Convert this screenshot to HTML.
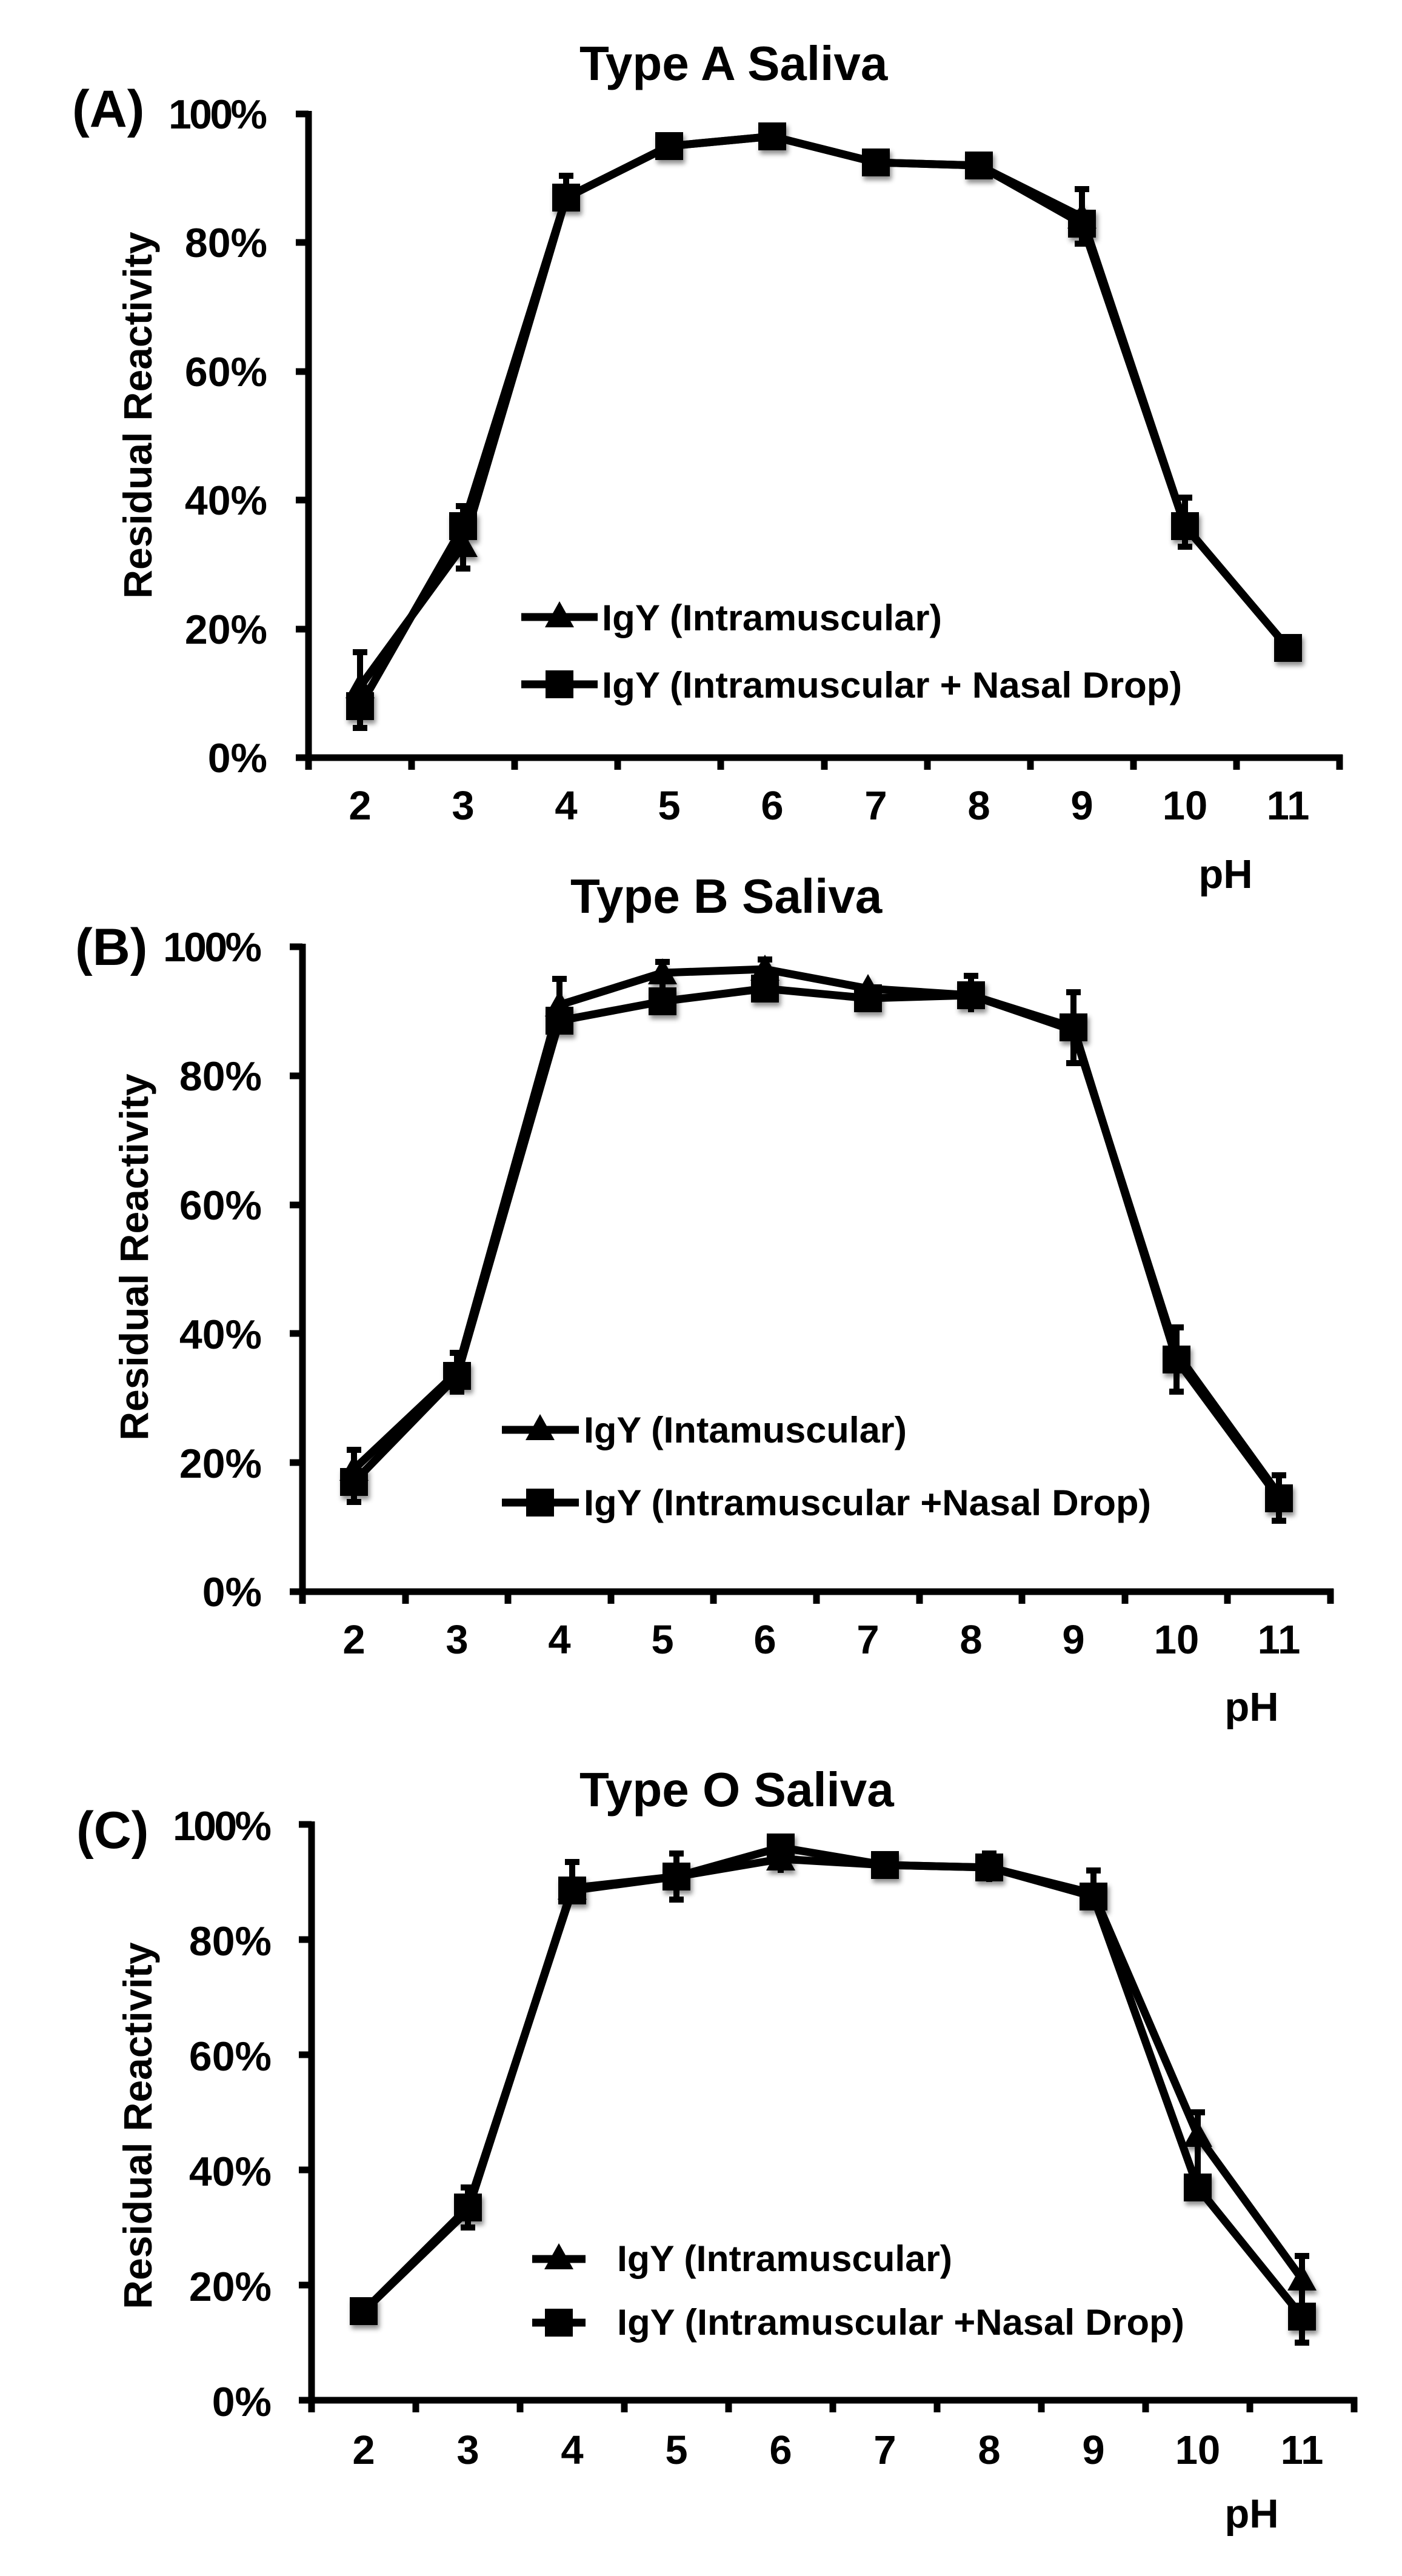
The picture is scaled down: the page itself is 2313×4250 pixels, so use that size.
<!DOCTYPE html>
<html><head><meta charset="utf-8"><style>
html,body{margin:0;padding:0;background:#fff;}
svg{display:block;}
text{font-family:"Liberation Sans",Arial,sans-serif;font-weight:bold;fill:#000;}
</style></head><body>
<svg width="2313" height="4250" viewBox="0 0 2313 4250" xmlns="http://www.w3.org/2000/svg">
<defs>
<filter id="sh" x="-50%" y="-50%" width="200%" height="200%"><feDropShadow dx="3" dy="6" stdDeviation="4" flood-color="#000" flood-opacity="0.45"/></filter>
<polygon id="tri" points="0,-24 24,19 -24,19"/>
<rect id="sq" x="-23" y="-23" width="46" height="46"/>
</defs>

<!-- ================= PANEL A ================= -->
<text x="956" y="132" font-size="80">Type A Saliva</text>
<text x="119" y="209" font-size="86">(A)</text>
<g font-size="68" text-anchor="end">
<text x="441" y="212" textLength="163">100%</text>
<text x="441" y="424">80%</text>
<text x="441" y="637">60%</text>
<text x="441" y="849">40%</text>
<text x="441" y="1062">20%</text>
<text x="441" y="1274">0%</text>
</g>
<text transform="translate(250,685) rotate(-90)" font-size="66" text-anchor="middle">Residual Reactivity</text>
<g stroke="#000" stroke-width="11" fill="none">
<line x1="509" y1="183" x2="509" y2="1270"/>
<line x1="488" y1="1250" x2="2215" y2="1250"/>
<path d="M488 188H509M488 400H509M488 613H509M488 825H509M488 1038H509"/>
<path d="M679 1250V1270M849 1250V1270M1019 1250V1270M1189 1250V1270M1360 1250V1270M1530 1250V1270M1700 1250V1270M1870 1250V1270M2040 1250V1270M2210 1245V1270"/>
</g>
<g font-size="67" text-anchor="middle">
<text x="594" y="1352">2</text><text x="764" y="1352">3</text><text x="934" y="1352">4</text><text x="1104" y="1352">5</text><text x="1274" y="1352">6</text><text x="1445" y="1352">7</text><text x="1615" y="1352">8</text><text x="1785" y="1352">9</text><text x="1955" y="1352">10</text><text x="2125" y="1352">11</text>
</g>
<text x="2022" y="1465" font-size="67" text-anchor="middle">pH</text>
<!-- error bars -->
<g stroke="#000" stroke-width="10" fill="none">
<path d="M594 1076V1201M582 1076H606M582 1201H606"/>
<path d="M764 835V938M752 835H776M752 938H776"/>
<path d="M934 290V340M922 290H946"/>
<path d="M1785 312V402M1773 312H1797M1773 402H1797"/>
<path d="M1955 821V902M1943 821H1967M1943 902H1967"/>
</g>
<g stroke="#000" stroke-width="13" fill="none" stroke-linejoin="round">
<polyline points="594,1133 764,900 934,326 1104,241 1274,225 1445,268 1615,273 1785,358 1955,868 2125,1069"/>
<polyline points="594,1165 764,868 934,326 1104,241 1274,225 1445,268 1615,273 1785,369 1955,868 2125,1069"/>
</g>
<g filter="url(#sh)">
<use href="#tri" x="594" y="1133"/><use href="#tri" x="764" y="900"/><use href="#tri" x="1785" y="358"/>
<use href="#sq" x="594" y="1165"/><use href="#sq" x="764" y="868"/><use href="#sq" x="934" y="326"/><use href="#sq" x="1104" y="241"/><use href="#sq" x="1274" y="225"/><use href="#sq" x="1445" y="268"/><use href="#sq" x="1615" y="273"/><use href="#sq" x="1785" y="369"/><use href="#sq" x="1955" y="868"/><use href="#sq" x="2125" y="1069"/>
</g>
<!-- legend A -->
<g stroke="#000" stroke-width="13"><line x1="860" y1="1018" x2="986" y2="1018"/><line x1="860" y1="1129" x2="986" y2="1129"/></g>
<use href="#tri" x="923" y="1016"/><use href="#sq" x="923" y="1129"/>
<text x="993" y="1040" font-size="60" textLength="561" lengthAdjust="spacingAndGlyphs">IgY (Intramuscular)</text>
<text x="993" y="1151" font-size="60" textLength="957" lengthAdjust="spacingAndGlyphs">IgY (Intramuscular + Nasal Drop)</text>

<!-- ================= PANEL B ================= -->
<text x="941" y="1506" font-size="80">Type B Saliva</text>
<text x="124" y="1592" font-size="86">(B)</text>
<g font-size="68" text-anchor="end">
<text x="432" y="1586" textLength="163">100%</text>
<text x="432" y="1799">80%</text>
<text x="432" y="2012">60%</text>
<text x="432" y="2225">40%</text>
<text x="432" y="2438">20%</text>
<text x="432" y="2650">0%</text>
</g>
<text transform="translate(244,2074) rotate(-90)" font-size="66" text-anchor="middle">Residual Reactivity</text>
<g stroke="#000" stroke-width="11" fill="none">
<line x1="499" y1="1557" x2="499" y2="2646"/>
<line x1="478" y1="2626" x2="2200" y2="2626"/>
<path d="M478 1562H499M478 1775H499M478 1988H499M478 2200H499M478 2413H499"/>
<path d="M669 2626V2646M838 2626V2646M1008 2626V2646M1177 2626V2646M1347 2626V2646M1517 2626V2646M1686 2626V2646M1856 2626V2646M2025 2626V2646M2195 2621V2646"/>
</g>
<g font-size="67" text-anchor="middle">
<text x="584" y="2728">2</text><text x="754" y="2728">3</text><text x="923" y="2728">4</text><text x="1093" y="2728">5</text><text x="1262" y="2728">6</text><text x="1432" y="2728">7</text><text x="1602" y="2728">8</text><text x="1771" y="2728">9</text><text x="1941" y="2728">10</text><text x="2110" y="2728">11</text>
</g>
<text x="2065" y="2839" font-size="67" text-anchor="middle">pH</text>
<g stroke="#000" stroke-width="10" fill="none">
<path d="M584 2392V2478M572 2392H596M572 2478H596"/>
<path d="M754 2232V2296M742 2232H766M742 2296H766"/>
<path d="M923 1615V1700M911 1615H935"/>
<path d="M1093 1587V1660M1081 1587H1105"/>
<path d="M1262 1583V1640M1250 1583H1274"/>
<path d="M1602 1610V1670M1590 1610H1614"/>
<path d="M1771 1637V1754M1759 1637H1783M1759 1754H1783"/>
<path d="M1941 2190V2296M1929 2190H1953M1929 2296H1953"/>
<path d="M2110 2434V2509M2098 2434H2122M2098 2509H2122"/>
</g>
<g stroke="#000" stroke-width="13" fill="none" stroke-linejoin="round">
<polyline points="584,2424 754,2264 923,1658 1093,1605 1262,1599 1432,1631 1602,1642 1771,1700 1941,2232 2110,2466"/>
<polyline points="584,2445 754,2270 923,1684 1093,1652 1262,1631 1432,1647 1602,1642 1771,1695 1941,2243 2110,2472"/>
</g>
<g filter="url(#sh)">
<use href="#tri" x="584" y="2424"/><use href="#tri" x="923" y="1658"/><use href="#tri" x="1093" y="1605"/><use href="#tri" x="1262" y="1599"/><use href="#tri" x="1432" y="1631"/>
<use href="#sq" x="584" y="2445"/><use href="#sq" x="754" y="2270"/><use href="#sq" x="923" y="1684"/><use href="#sq" x="1093" y="1652"/><use href="#sq" x="1262" y="1631"/><use href="#sq" x="1432" y="1647"/><use href="#sq" x="1602" y="1642"/><use href="#sq" x="1771" y="1695"/><use href="#sq" x="1941" y="2243"/><use href="#sq" x="2110" y="2472"/>
</g>
<g stroke="#000" stroke-width="13"><line x1="828" y1="2359" x2="955" y2="2359"/><line x1="828" y1="2479" x2="955" y2="2479"/></g>
<use href="#tri" x="891" y="2357"/><use href="#sq" x="891" y="2479"/>
<text x="963" y="2380" font-size="60" textLength="533" lengthAdjust="spacingAndGlyphs">IgY (Intamuscular)</text>
<text x="963" y="2500" font-size="60" textLength="936" lengthAdjust="spacingAndGlyphs">IgY (Intramuscular +Nasal Drop)</text>

<!-- ================= PANEL C ================= -->
<text x="956" y="2980" font-size="80">Type O Saliva</text>
<text x="126" y="3049" font-size="86">(C)</text>
<g font-size="68" text-anchor="end">
<text x="448" y="3036" textLength="163">100%</text>
<text x="448" y="3226">80%</text>
<text x="448" y="3416">60%</text>
<text x="448" y="3606">40%</text>
<text x="448" y="3796">20%</text>
<text x="448" y="3986">0%</text>
</g>
<text transform="translate(250,3507) rotate(-90)" font-size="66" text-anchor="middle">Residual Reactivity</text>
<g stroke="#000" stroke-width="11" fill="none">
<line x1="514" y1="3005" x2="514" y2="3980"/>
<line x1="493" y1="3960" x2="2239" y2="3960"/>
<path d="M493 3010H514M493 3200H514M493 3390H514M493 3580H514M493 3770H514"/>
<path d="M686 3960V3980M858 3960V3980M1030 3960V3980M1202 3960V3980M1374 3960V3980M1546 3960V3980M1718 3960V3980M1890 3960V3980M2062 3960V3980M2234 3955V3980"/>
</g>
<g font-size="67" text-anchor="middle">
<text x="600" y="4065">2</text><text x="772" y="4065">3</text><text x="944" y="4065">4</text><text x="1116" y="4065">5</text><text x="1288" y="4065">6</text><text x="1460" y="4065">7</text><text x="1632" y="4065">8</text><text x="1804" y="4065">9</text><text x="1976" y="4065">10</text><text x="2148" y="4065">11</text>
</g>
<text x="2065" y="4170" font-size="67" text-anchor="middle">pH</text>
<g stroke="#000" stroke-width="10" fill="none">
<path d="M772 3609V3675M760 3609H784M760 3675H784"/>
<path d="M944 3072V3130M932 3072H956"/>
<path d="M1116 3058V3134M1104 3058H1128M1104 3134H1128"/>
<path d="M1288 3034V3090M1276 3034H1300"/>
<path d="M1460 3060V3095"/>
<path d="M1632 3058V3105M1620 3058H1644"/>
<path d="M1804 3086V3150M1792 3086H1816"/>
<path d="M1976 3485V3630M1964 3485H1988"/>
<path d="M2148 3722V3865M2136 3722H2160M2136 3865H2160"/>
</g>
<g stroke="#000" stroke-width="13" fill="none" stroke-linejoin="round">
<polyline points="600,3813 772,3647 944,3115 1116,3096 1288,3067 1460,3077 1632,3081 1804,3124 1976,3523 2148,3760"/>
<polyline points="600,3813 772,3642 944,3119 1116,3096 1288,3048 1460,3077 1632,3081 1804,3129 1976,3609 2148,3822"/>
</g>
<g filter="url(#sh)">
<use href="#tri" x="944" y="3115"/><use href="#tri" x="1288" y="3067"/><use href="#tri" x="1976" y="3523"/><use href="#tri" x="2148" y="3760"/>
<use href="#sq" x="600" y="3813"/><use href="#sq" x="772" y="3642"/><use href="#sq" x="944" y="3119"/><use href="#sq" x="1116" y="3096"/><use href="#sq" x="1288" y="3048"/><use href="#sq" x="1460" y="3077"/><use href="#sq" x="1632" y="3081"/><use href="#sq" x="1804" y="3129"/><use href="#sq" x="1976" y="3609"/><use href="#sq" x="2148" y="3822"/>
</g>
<g stroke="#000" stroke-width="13"><line x1="878" y1="3727" x2="966" y2="3727"/><line x1="878" y1="3832" x2="966" y2="3832"/></g>
<use href="#tri" x="922" y="3725"/><use href="#sq" x="922" y="3832"/>
<text x="1018" y="3747" font-size="60" textLength="553" lengthAdjust="spacingAndGlyphs">IgY (Intramuscular)</text>
<text x="1018" y="3852" font-size="60" textLength="936" lengthAdjust="spacingAndGlyphs">IgY (Intramuscular +Nasal Drop)</text>
</svg>
</body></html>
